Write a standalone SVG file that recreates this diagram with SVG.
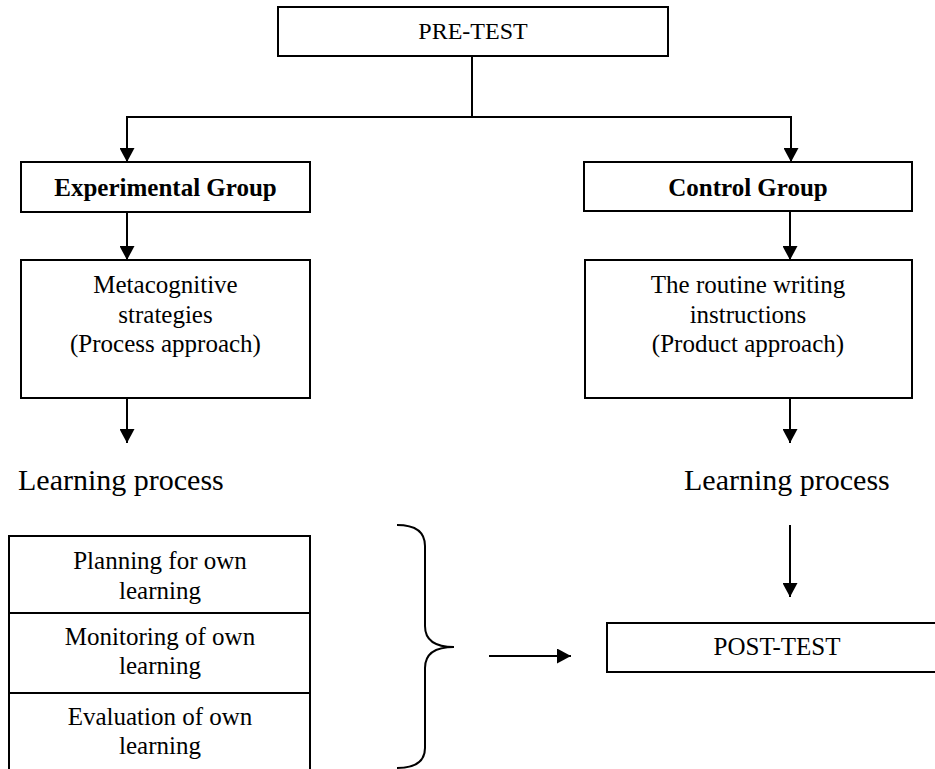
<svg xmlns="http://www.w3.org/2000/svg" width="935" height="769" viewBox="0 0 935 769" font-family="'Liberation Serif', 'Times New Roman', Tinos, 'DejaVu Serif', serif">
<style>
  .box { fill: #ffffff; stroke: #000000; stroke-width: 2; }
  .t { font-family: 'Liberation Serif', 'Times New Roman', Tinos, 'DejaVu Serif', serif; font-size: 25px; fill: #000000; text-anchor: middle; }
  .b { font-weight: bold; }
  .big { font-size: 30px; text-anchor: start; }
  .c { fill: none; stroke: #000000; stroke-width: 2; }
</style>
<defs>
  <marker id="ah" viewBox="0 0 14 15" refX="14" refY="7.5" markerWidth="14" markerHeight="15" orient="auto" markerUnits="userSpaceOnUse">
    <path d="M0,0 L14,7.5 L0,15 z" fill="#000000"/>
  </marker>
</defs>
<rect width="935" height="769" fill="#ffffff"/>

<g id="pretest">
  <rect class="box" x="278" y="7" width="390" height="49"/>
  <text class="t" x="473" y="39" style="font-size:24px">PRE-TEST</text>
</g>

<g id="experimental">
  <rect class="box" x="21" y="162" width="289" height="50"/>
  <text class="t b" x="165.5" y="196">Experimental Group</text>
</g>

<g id="control">
  <rect class="box" x="584" y="162" width="328" height="49"/>
  <text class="t b" x="748" y="196">Control Group</text>
</g>

<g id="metacognitive">
  <rect class="box" x="21" y="260" width="289" height="138"/>
  <text class="t" x="165.5" y="293">Metacognitive</text>
  <text class="t" x="165.5" y="323">strategies</text>
  <text class="t" x="165.5" y="352">(Process approach)</text>
</g>

<g id="routine">
  <rect class="box" x="585" y="260" width="327" height="138"/>
  <text class="t" x="748" y="293">The routine writing</text>
  <text class="t" x="748" y="323">instructions</text>
  <text class="t" x="748" y="352">(Product approach)</text>
</g>

<g id="learning-left">
  <text class="t big" x="18" y="490">Learning process</text>
</g>

<g id="learning-right">
  <text class="t big" x="684" y="490">Learning process</text>
</g>

<g id="stages">
  <rect class="box" x="9" y="536" width="301" height="250"/>
  <line class="c" x1="9" y1="613" x2="310" y2="613"/>
  <line class="c" x1="9" y1="693" x2="310" y2="693"/>
  <text class="t" x="160" y="569">Planning for own</text>
  <text class="t" x="160" y="599">learning</text>
  <text class="t" x="160" y="645">Monitoring of own</text>
  <text class="t" x="160" y="674">learning</text>
  <text class="t" x="160" y="725">Evaluation of own</text>
  <text class="t" x="160" y="754">learning</text>
</g>

<g id="brace">
  <path class="c" d="M397,525 C415,525 425,532 425,546 L425,626 C425,640 435,647 454,647 C435,647 425,654 425,668 L425,748 C425,762 415,768 397,768"/>
</g>

<g id="posttest">
  <rect class="box" x="607" y="623" width="340" height="49"/>
  <text class="t" x="777" y="655">POST-TEST</text>
</g>

<g id="connectors">
  <line class="c" x1="472" y1="56" x2="472" y2="117"/>
  <line class="c" x1="126" y1="117" x2="792" y2="117"/>
  <line class="c" x1="127" y1="117" x2="127" y2="162" marker-end="url(#ah)"/>
  <line class="c" x1="791" y1="117" x2="791" y2="162" marker-end="url(#ah)"/>
  <line class="c" x1="127" y1="212" x2="127" y2="260" marker-end="url(#ah)"/>
  <line class="c" x1="790" y1="211" x2="790" y2="260" marker-end="url(#ah)"/>
  <line class="c" x1="127" y1="398" x2="127" y2="443" marker-end="url(#ah)"/>
  <line class="c" x1="790" y1="398" x2="790" y2="443" marker-end="url(#ah)"/>
  <line class="c" x1="790" y1="525" x2="790" y2="597" marker-end="url(#ah)"/>
  <line class="c" x1="489" y1="656" x2="571" y2="656" marker-end="url(#ah)"/>
</g>
</svg>
